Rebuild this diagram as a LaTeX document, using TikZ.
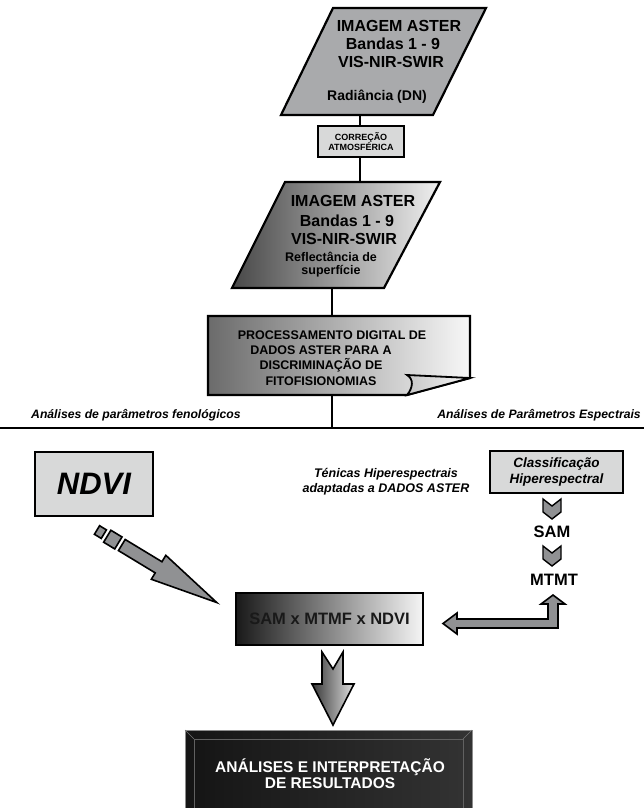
\documentclass[tikz,border=0pt]{standalone}
\usepackage{fontspec}
\setmainfont{Liberation Sans}
\usetikzlibrary{calc}
\definecolor{pgray}{HTML}{A9AAAC}
\definecolor{boxgray}{HTML}{D8D9D9}
\definecolor{arrgray}{HTML}{909193}
\newcommand\fz[2]{\fontsize{#1pt}{#2pt}\selectfont}
\begin{document}
\begin{tikzpicture}[x=1pt,y=-1pt,line join=miter,
  outl/.style={draw=black,line width=2.2pt},
  conn/.style={draw=black,line width=2.2pt},
  lbl/.style={inner sep=0pt,align=center},
  chev/.style={draw=black,line width=1.4pt,fill=arrgray,line join=miter},
  blockarr/.style={draw=black,line width=1.6pt,line join=miter}]
\useasboundingbox (0,0) rectangle (644,808);
\clip (0,0) rectangle (644,808);

% ---- parallelogram 1
\path[outl,fill=pgray] (333,8) -- (486,8) -- (433,115) -- (281,115) -- cycle;
\node[lbl,font=\fz{16}{19}\bfseries] (p1a) at (399,26) {IMAGEM ASTER};
\node[lbl,font=\fz{16}{19}\bfseries] (p1b) at (393,44) {Bandas 1 - 9};
\node[lbl,font=\fz{16}{19}\bfseries] (p1c) at (391,62) {VIS-NIR-SWIR};
\node[lbl,font=\fz{14}{17}\bfseries] (p1d) at (377,97) {Radiância (DN)};
\coordinate (p1s) at (360,115);

% ---- correction box
\node[outl,fill=boxgray,minimum width=86pt,minimum height=31pt,inner sep=0pt,
      align=center,font=\fz{9}{10}\bfseries] (corr) at (361,141.5) {CORREÇÃO\\ATMOSFÉRICA};
\draw[conn] (p1s) -- (p1s |- corr.north);
\coordinate (p2n) at (360,182);
\draw[conn] (corr.south -| p2n) -- (p2n);

% ---- parallelogram 2
\path[outl,left color=black!72,right color=black!6] (285,182) -- (440,182) -- (384,288) -- (232,288) -- cycle;
\node[lbl,font=\fz{16}{19}\bfseries] (p2a) at (353,201) {IMAGEM ASTER};
\node[lbl,font=\fz{16}{19}\bfseries] (p2b) at (347,221) {Bandas 1 - 9};
\node[lbl,font=\fz{16}{19}\bfseries] (p2c) at (344,239) {VIS-NIR-SWIR};
\node[lbl,font=\fz{12.5}{14}\bfseries] (p2d) at (331,257) {Reflectância de};
\node[lbl,font=\fz{12.5}{14}\bfseries] (p2e) at (331,271) {superfície};
\coordinate (p2s) at (332,288);

% ---- document box
\path[outl,left color=black!58,right color=black!3] (208,316) -- (470,316) -- (470,378) -- (407,395) -- (208,395) -- cycle;
\path[draw=black,line width=1.8pt,left color=black!22,right color=black!4]
  (407,375) -- (470,378) -- (407,395) .. controls (413,388) and (414,379) .. cycle;
\node[lbl,font=\fz{12.5}{15.3}\bfseries] (doc) at (321,358)
  {\hspace*{22pt}PROCESSAMENTO DIGITAL DE\\DADOS ASTER PARA A\\DISCRIMINAÇÃO DE\\FITOFISIONOMIAS};
\coordinate (docn) at (332,316);
\coordinate (docs) at (332,395);
\draw[conn] (p2s) -- (docn);

% ---- horizontal divider
\coordinate (hl) at (0,428);
\coordinate (hr) at (644,428);
\coordinate (hm) at (332,428);
\draw[conn] (docs) -- (hm);
\draw[conn] (hl) -- (hr);
\node[lbl,font=\fz{12.2}{14}\bfseries\itshape,anchor=west] (lfen) at (31,415) {Análises de parâmetros fenológicos};
\node[lbl,font=\fz{12.2}{14}\bfseries\itshape,anchor=east] (lesp) at (641,415) {Análises de Parâmetros Espectrais};

% ---- NDVI
\node[outl,fill=boxgray,minimum width=118pt,minimum height=64pt,inner sep=0pt,
      font=\fz{31}{36}\bfseries\itshape] (ndvi) at (94,484) {NDVI};

% ---- hyperspectral
\node[lbl,font=\fz{12.5}{15}\bfseries\itshape] (tec) at (386,482) {Ténicas Hiperespectrais\\adaptadas a DADOS ASTER};
\node[outl,fill=boxgray,minimum width=133pt,minimum height=42pt,inner sep=0pt,align=center,
      font=\fz{13.5}{16.5}\bfseries\itshape] (clas) at (556.5,472) {Classificação\\Hiperespectral};
\path[chev] (543,499) -- (552,506) -- (561,499) -- (561,512) -- (552,519) -- (543,512) -- cycle;
\node[lbl,font=\fz{16.5}{19}\bfseries] (samlbl) at (552,532) {SAM};
\path[chev] (543,546) -- (552,553) -- (561,546) -- (561,559) -- (552,566) -- (543,559) -- cycle;
\node[lbl,font=\fz{16.5}{19}\bfseries] (mtmt) at (554,580) {MTMT};

% ---- L-shaped arrow
\path[blockarr,fill=arrgray] (553,595) -- (565,604) -- (558,604) -- (558,628) -- (457,628) -- (457,634)
  -- (443,623.5) -- (457,613) -- (457,619) -- (548,619) -- (548,604) -- (541,604) -- cycle;

% ---- dashed block arrow from NDVI
\begin{scope}[shift={(97,530)},rotate=-31.2]
  \path[blockarr,fill=arrgray] (0,-5) rectangle (8,5);
  \path[blockarr,fill=arrgray] (12,-7) rectangle (25,7);
  \path[blockarr,fill=arrgray] (29,-6.5) -- (72,-6.5) -- (72,-14) -- (140,0) -- (72,14) -- (72,6.5) -- (29,6.5) -- cycle;
\end{scope}

% ---- SAM x MTMF x NDVI
\node[outl,left color=black!90,middle color=black!50,right color=black!4,minimum width=187pt,minimum height=52pt,inner sep=0pt,
      font=\fz{16.5}{19}\bfseries,text=black!90] (sam) at (329.5,619) {SAM x MTMF x NDVI};

% ---- down arrow
\path[blockarr,left color=black!78,right color=black!12] (322,652) -- (333,669) -- (343,652) -- (343,684) -- (354,684)
  -- (333,725) -- (312,684) -- (322,684) -- cycle;

% ---- final box
\path[left color=black!92,right color=black!80] (185,730) rectangle (472,830);
\draw[black!45,line width=0.8pt] (185,730) rectangle (472,830);
\draw[black!62,line width=0.8pt] (194,739) rectangle (463,821);
\draw[black!55,line width=0.6pt] (185,730) -- (194,739) (472,730) -- (463,739);
\node[lbl,font=\fz{15.5}{16}\bfseries,text=white] (fin) at (330,774) {ANÁLISES E INTERPRETAÇÃO\\DE RESULTADOS};
\end{tikzpicture}
\end{document}
